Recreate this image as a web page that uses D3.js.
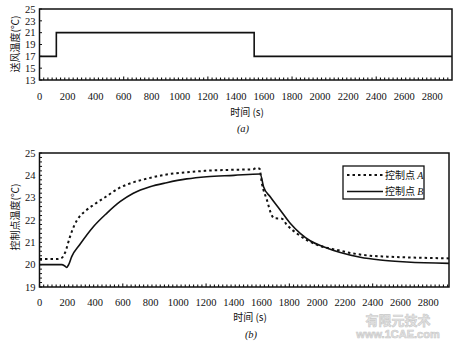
<!DOCTYPE html>
<html><head><meta charset="utf-8">
<script src="https://cdn.jsdelivr.net/npm/d3@7"></script>
<style>
body{margin:0;background:#fff;}
svg{display:block;}
.num{font-family:"Liberation Serif","DejaVu Serif",serif;font-size:10.5px;fill:#111;}
.cjk{font-family:"Noto Sans CJK SC",sans-serif;font-size:10px;fill:#111;}
</style></head>
<body>
<svg id="c" width="460" height="343"></svg>
<script>
// ---- data ----
const xTickValues = [0,200,400,600,800,1000,1200,1400,1600,1800,2000,2200,2400,2600,2800];
const topYTicks = [13,15,17,19,21,23,25];
const botYTicks = [19,20,21,22,23,24,25];
const topTime = [0,120,120,1530,1530,2940];
const topTemp = [17,17,21,21,17,17];
const timeA = [0,130,160,185,217,250,288,330,383,478,573,668,787,906,1048,1190,1400,1540,1560,1585,1602,1638,1674,1690,1746,1782,1854,1926,2022,2142,2262,2382,2502,2743,2950];
const tempA = [20.25,20.25,20.3,20.55,21.2,21.75,22.15,22.4,22.65,23.04,23.43,23.67,23.87,24.03,24.13,24.2,24.25,24.27,24.33,24.3,23.64,22.9,22.2,22.08,22.06,21.78,21.4,21.1,20.84,20.66,20.5,20.4,20.36,20.31,20.28];
const timeB = [0,160,180,195,210,232,288,388,484,580,676,796,916,1060,1204,1400,1590,1614,1662,1734,1806,1878,1950,2046,2167,2311,2455,2647,2950];
const tempB = [20.0,20.0,19.95,19.88,20.0,20.36,20.88,21.7,22.3,22.82,23.2,23.49,23.67,23.84,23.94,24.0,24.06,23.49,23.04,22.45,21.85,21.4,21.07,20.8,20.54,20.33,20.21,20.12,20.06];
const seriesNames = ["控制点 ","控制点 "];
const seriesLetters = ["A","B"];

const svg = d3.select("#c");

function frame(g, x, y, yTicks, yMinorStep, xMinorStep){
  const [x0,x1] = x.range(), [y0,y1] = y.range();
  g.append("rect").attr("x",x0).attr("y",y1).attr("width",x1-x0).attr("height",y0-y1)
    .attr("fill","none").attr("stroke","#111").attr("stroke-width",1.5);
  const xd = x.domain();
  const minors = d3.range(0, xd[1], xMinorStep);
  g.selectAll(null).data(minors).enter().append("line")
    .attr("x1",d=>x(d)).attr("x2",d=>x(d)).attr("y1",y0).attr("y2",d=> (d%200===0)? y0-3.5 : y0-2.5)
    .attr("stroke","#111").attr("stroke-width",1.1);
  const yd = y.domain();
  const yMin = d3.range(yd[0], yd[1]+1e-6, yMinorStep);
  g.selectAll(null).data(yMin).enter().append("line")
    .attr("x1",x0).attr("x2",x0+2.5).attr("y1",d=>y(d)).attr("y2",d=>y(d))
    .attr("stroke","#111").attr("stroke-width",1);
  g.selectAll(null).data(yTicks).enter().append("text").attr("class","num")
    .attr("x",x0-4).attr("y",d=>y(d)).attr("dy","0.35em").attr("text-anchor","end").text(d=>d);
}

// ---- top chart ----
const xT = d3.scaleLinear().domain([0,2940]).range([39.5,452]);
const yT = d3.scaleLinear().domain([13,25]).range([80,9]);
const gT = svg.append("g");
frame(gT, xT, yT, topYTicks, 2, 30);
gT.selectAll(null).data(xTickValues).enter().append("text").attr("class","num")
  .attr("x",d=>xT(d)).attr("y",96).attr("dy","0.35em").attr("text-anchor","middle").text(d=>d);
gT.append("path").datum(d3.zip(topTime,topTemp))
  .attr("d", d3.line().x(d=>xT(d[0])).y(d=>yT(d[1])))
  .attr("fill","none").attr("stroke","#111").attr("stroke-width",1.6);
gT.append("text").attr("class","cjk").attr("transform","translate(15,44) rotate(-90)")
  .attr("text-anchor","middle").attr("dy","0.35em").text("送风温度(℃)");
gT.append("text").attr("class","cjk").attr("x",247).attr("y",112).attr("dy","0.35em")
  .attr("text-anchor","middle").text("时间 (s)");
gT.append("text").attr("class","num").attr("x",243).attr("y",128).attr("dy","0.35em")
  .attr("text-anchor","middle").attr("font-style","italic").text("(a)");

// ---- bottom chart ----
const xB = d3.scaleLinear().domain([0,2950]).range([39.5,449]);
const yB = d3.scaleLinear().domain([19,25]).range([287,153]);
const gB = svg.append("g");
frame(gB, xB, yB, botYTicks, 0.2, 30);
gB.selectAll(null).data(xTickValues).enter().append("text").attr("class","num")
  .attr("x",d=>xB(d)).attr("y",302).attr("dy","0.35em").attr("text-anchor","middle").text(d=>d);
const line = d3.line().x(d=>xB(d[0])).y(d=>yB(d[1])).curve(d3.curveMonotoneX);
gB.append("path").datum(d3.zip(timeA,tempA)).attr("d",line)
  .attr("fill","none").attr("stroke","#111").attr("stroke-width",2).attr("stroke-dasharray","2.5,3");
gB.append("path").datum(d3.zip(timeB,tempB)).attr("d",line)
  .attr("fill","none").attr("stroke","#111").attr("stroke-width",1.6);
gB.append("text").attr("class","cjk").attr("transform","translate(15,217) rotate(-90)")
  .attr("text-anchor","middle").attr("dy","0.35em").text("控制点温度(℃)");
gB.append("text").attr("class","cjk").attr("x",250).attr("y",317).attr("dy","0.35em")
  .attr("text-anchor","middle").text("时间 (s)");
gB.append("text").attr("class","num").attr("x",251).attr("y",334).attr("dy","0.35em")
  .attr("text-anchor","middle").attr("font-style","italic").text("(b)");

// legend
const lg = gB.append("g");
lg.append("rect").attr("x",343).attr("y",166).attr("width",81).attr("height",33)
  .attr("fill","#fff").attr("stroke","#111").attr("stroke-width",1.3);
[0,1].forEach(i=>{
  const yy = 175 + i*16.5;
  lg.append("line").attr("x1",347).attr("x2",383).attr("y1",yy).attr("y2",yy)
    .attr("stroke","#111").attr("stroke-width", i===0?2:1.6)
    .attr("stroke-dasharray", i===0?"2.5,3":null);
  const t = lg.append("text").attr("class","cjk").attr("x",385).attr("y",yy).attr("dy","0.35em");
  t.append("tspan").text(seriesNames[i]);
  t.append("tspan").attr("font-family","Liberation Serif,serif").attr("font-style","italic").text(seriesLetters[i]);
});

// watermark
svg.append("text").attr("x",398).attr("y",320).attr("dy","0.35em").attr("text-anchor","middle")
  .attr("font-family","Noto Sans CJK SC,sans-serif").attr("font-size",13).attr("font-weight","bold")
  .attr("fill","#e4e4e4").attr("stroke","#c8c8c8").attr("stroke-width",0.6).text("有限元技术");
svg.append("text").attr("x",398).attr("y",334).attr("dy","0.35em").attr("text-anchor","middle")
  .attr("font-family","Liberation Sans,Arial,sans-serif").attr("font-size",11).attr("font-weight","bold")
  .attr("fill","#e4e4e4").attr("stroke","#c8c8c8").attr("stroke-width",0.6).text("www.1CAE.com");
</script>
</body></html>
